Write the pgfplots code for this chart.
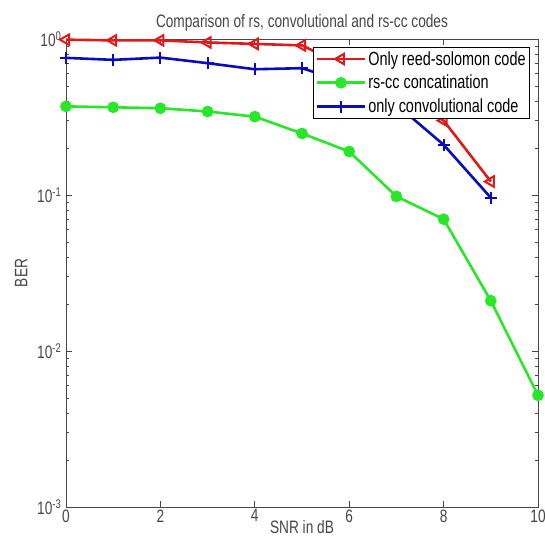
\documentclass[border=0pt]{standalone}
\usepackage{fontspec}
\setmainfont{Liberation Sans}[FakeStretch=0.76]
\usepackage{pgfplots}
\pgfplotsset{compat=1.18}
\definecolor{cred}{RGB}{225,25,25}
\definecolor{cgreen}{RGB}{40,230,40}
\definecolor{cblue}{RGB}{10,10,190}
\definecolor{cax}{RGB}{70,70,70}
\begin{document}
\begin{tikzpicture}
\useasboundingbox (-66pt,-30pt) rectangle (479pt,507pt);
\begin{axis}[
  at={(0pt,0pt)}, anchor=south west,
  scale only axis, width=472pt, height=468pt,
  ymode=log, xmin=0, xmax=10, ymin=1e-3, ymax=1,
  xtick={0,2,4,6,8,10}, xticklabels={0,2,4,6,8,10},
  ytick={1e-3,1e-2,1e-1,1},
  yticklabels={{10\textsuperscript{-3}},{10\textsuperscript{-2}},{10\textsuperscript{-1}},{10\textsuperscript{0}}},
  tick align=inside,
  major tick length=6pt, minor tick length=3.5pt,
  axis line style={cax, line width=0.9pt},
  every tick/.style={cax, line width=0.9pt},
  tick label style={text=cax},
  yticklabel style={xshift=-1pt},
  xticklabel style={yshift=1pt},
  font=\fontsize{18}{21}\selectfont,
  label style={text=cax},
  title={Comparison of rs, convolutional and rs-cc codes},
  title style={text=cax, yshift=-2pt},
  xlabel={SNR in dB}, ylabel={BER},
  xlabel style={yshift=9pt},
  ylabel style={yshift=3pt},
  legend cell align=left,
  legend style={at={(1,1)}, anchor=north east, xshift=-8pt, yshift=-8pt,
    draw=black, line width=0.8pt, font=\fontsize{19}{22}\selectfont,
    inner sep=2pt, row sep=4.5pt, nodes={inner sep=2pt}},
  legend image code/.code={\draw[mark repeat=2,mark phase=2,#1] plot coordinates {(0pt,0pt) (24pt,0pt) (48pt,0pt)};},
]
\addplot[cred, line width=2.6pt, mark=triangle, mark size=6pt, mark options={rotate=90, solid, line width=2pt}]
 coordinates {(0,0.99) (1,0.98) (2,0.98) (3,0.95) (4,0.93) (5,0.91) (6,0.65) (7,0.47) (8,0.30) (9,0.122)};
\addlegendentry{Only reed-solomon code}
\addplot[cgreen, line width=2.6pt, mark=*, mark size=4.5pt, mark options={solid}]
 coordinates {(0,0.37) (1,0.365) (2,0.36) (3,0.343) (4,0.318) (5,0.248) (6,0.19) (7,0.098) (8,0.07) (9,0.021) (10,0.0052)};
\addlegendentry{rs-cc concatination}
\addplot[cblue, line width=2.6pt, mark=+, mark size=6pt, mark options={solid, line width=2pt}]
 coordinates {(0,0.757) (1,0.735) (2,0.76) (3,0.70) (4,0.64) (5,0.65) (6,0.52) (7,0.38) (8,0.21) (9,0.096)};
\addlegendentry{only convolutional code}
\end{axis}
\end{tikzpicture}
\end{document}
